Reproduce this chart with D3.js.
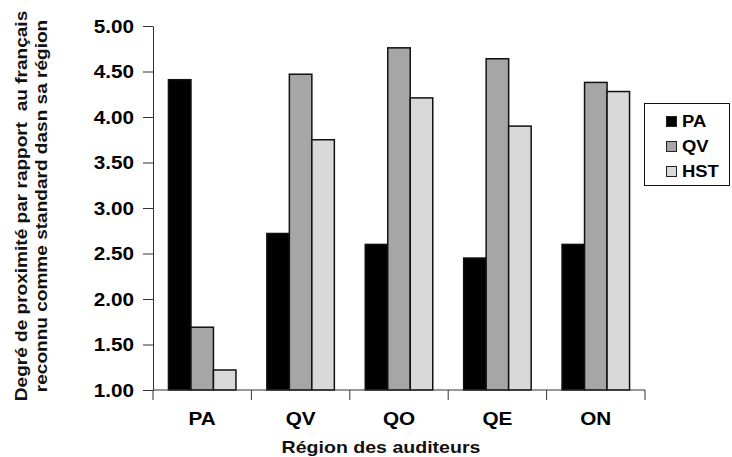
<!DOCTYPE html>
<html>
<head>
<meta charset="utf-8">
<script src="https://cdn.jsdelivr.net/npm/d3@7"></script>
<style>
  html, body { margin: 0; padding: 0; background: #fff; }
  svg { display: block; font-family: "Liberation Sans", Arial, sans-serif; }
</style>
</head>
<body>
<svg id="chart" width="732" height="457"></svg>
<script>
// Listener regions (x axis) and speaker series
const regions = ["PA", "QV", "QO", "QE", "ON"];
const seriesNames = ["PA", "QV", "HST"];
const paValues  = [4.41, 2.72, 2.60, 2.45, 2.60];
const qvValues  = [1.69, 4.47, 4.76, 4.64, 4.38];
const hstValues = [1.22, 3.75, 4.21, 3.90, 4.28];
const yTicks = [1.00, 1.50, 2.00, 2.50, 3.00, 3.50, 4.00, 4.50, 5.00];
const seriesColors = ["#000000", "#a6a6a6", "#d9d9d9"];

const seriesValues = [paValues, qvValues, hstValues];
const rows = regions.map((r, i) => ({
  region: r,
  values: seriesNames.map((s, k) => ({ series: s, k, value: seriesValues[k][i] }))
}));

// Text in this chart is set slightly wide
const STRETCH = 1.15;
function widen(sel, factor = STRETCH) {
  sel.each(function () {
    const w = this.getComputedTextLength();
    d3.select(this).attr("textLength", w * factor).attr("lengthAdjust", "spacingAndGlyphs");
  });
}

const svg = d3.select("#chart");
const plot = { left: 153, right: 645, top: 26, bottom: 390 };

const x = d3.scaleBand().domain(regions).range([plot.left, plot.right]).paddingInner(0).paddingOuter(0);
const groupWidth = 67.5;
const xs = d3.scaleBand().domain(seriesNames).range([0, groupWidth]).padding(0);
const y = d3.scaleLinear().domain([1, 5]).range([plot.bottom, plot.top]);

// Bars
const groups = svg.append("g").selectAll("g").data(rows).join("g")
  .attr("transform", d => `translate(${x(d.region) + (x.bandwidth() - groupWidth) / 2},0)`);
groups.selectAll("rect").data(d => d.values).join("rect")
  .attr("x", d => xs(d.series))
  .attr("y", d => y(d.value))
  .attr("width", xs.bandwidth())
  .attr("height", d => y(1) - y(d.value))
  .attr("fill", d => seriesColors[d.k])
  .attr("stroke", "#111")
  .attr("stroke-width", 1.5);

// Y axis
const yAxis = svg.append("g")
  .attr("transform", `translate(${plot.left},0)`)
  .call(d3.axisLeft(y).tickValues(yTicks).tickFormat(d3.format(".2f")).tickSize(10).tickSizeOuter(0).tickPadding(9));
yAxis.select(".domain").attr("stroke", "#333").attr("stroke-width", 1);
yAxis.selectAll(".tick line").attr("stroke", "#333");
yAxis.selectAll("text")
  .attr("fill", "#000")
  .attr("dy", "0.36em")
  .style("font-size", "18px")
  .style("font-weight", "bold")
  .call(widen);

// X axis with ticks at category boundaries
const xAxisG = svg.append("g").attr("transform", `translate(0,${plot.bottom})`);
xAxisG.append("line")
  .attr("x1", plot.left).attr("x2", plot.right)
  .attr("stroke", "#333");
const boundaries = regions.map(r => x(r)).concat([plot.right]);
xAxisG.selectAll(".bt").data(boundaries).join("line")
  .attr("class", "bt")
  .attr("x1", d => d).attr("x2", d => d)
  .attr("y1", 0).attr("y2", 10)
  .attr("stroke", "#333");
xAxisG.selectAll(".cl").data(regions).join("text")
  .attr("class", "cl")
  .attr("x", d => x(d) + x.bandwidth() / 2)
  .attr("y", 35)
  .attr("text-anchor", "middle")
  .attr("fill", "#000")
  .style("font-size", "18px")
  .style("font-weight", "bold")
  .text(d => d)
  .call(widen);

// Axis titles
svg.append("text")
  .attr("x", 381).attr("y", 453)
  .attr("text-anchor", "middle")
  .style("font-size", "17px")
  .style("font-weight", "bold")
  .attr("fill", "#111")
  .text("Région des auditeurs")
  .call(widen);

const yTitle = svg.append("text")
  .attr("transform", "translate(27,206) rotate(-90)")
  .attr("text-anchor", "middle")
  .style("font-size", "16px")
  .style("font-weight", "bold")
  .attr("fill", "#111");
yTitle.append("tspan").attr("x", 0).attr("dy", 0).attr("xml:space", "preserve")
  .text("Degré de proximité par rapport  au français");
yTitle.append("tspan").attr("x", 0).attr("dy", 19.5).attr("xml:space", "preserve")
  .text("reconnu comme standard dasn sa région");
yTitle.selectAll("tspan").call(widen, 1.19);

// Legend
const legend = svg.append("g");
legend.append("rect")
  .attr("x", 644.5).attr("y", 103.5).attr("width", 85).attr("height", 82)
  .attr("fill", "#fff").attr("stroke", "#111");
const items = legend.selectAll(".li").data(seriesNames).join("g")
  .attr("class", "li")
  .attr("transform", (d, i) => `translate(666,${121 + i * 25})`);
items.append("rect")
  .attr("x", 0.5).attr("y", -4.5).attr("width", 10).attr("height", 10)
  .attr("fill", (d, i) => seriesColors[i])
  .attr("stroke", "#222");
items.append("text")
  .attr("x", 16).attr("y", 5.5)
  .style("font-size", "16px")
  .style("font-weight", "bold")
  .attr("fill", "#000")
  .text(d => d)
  .call(widen);
</script>
</body>
</html>
